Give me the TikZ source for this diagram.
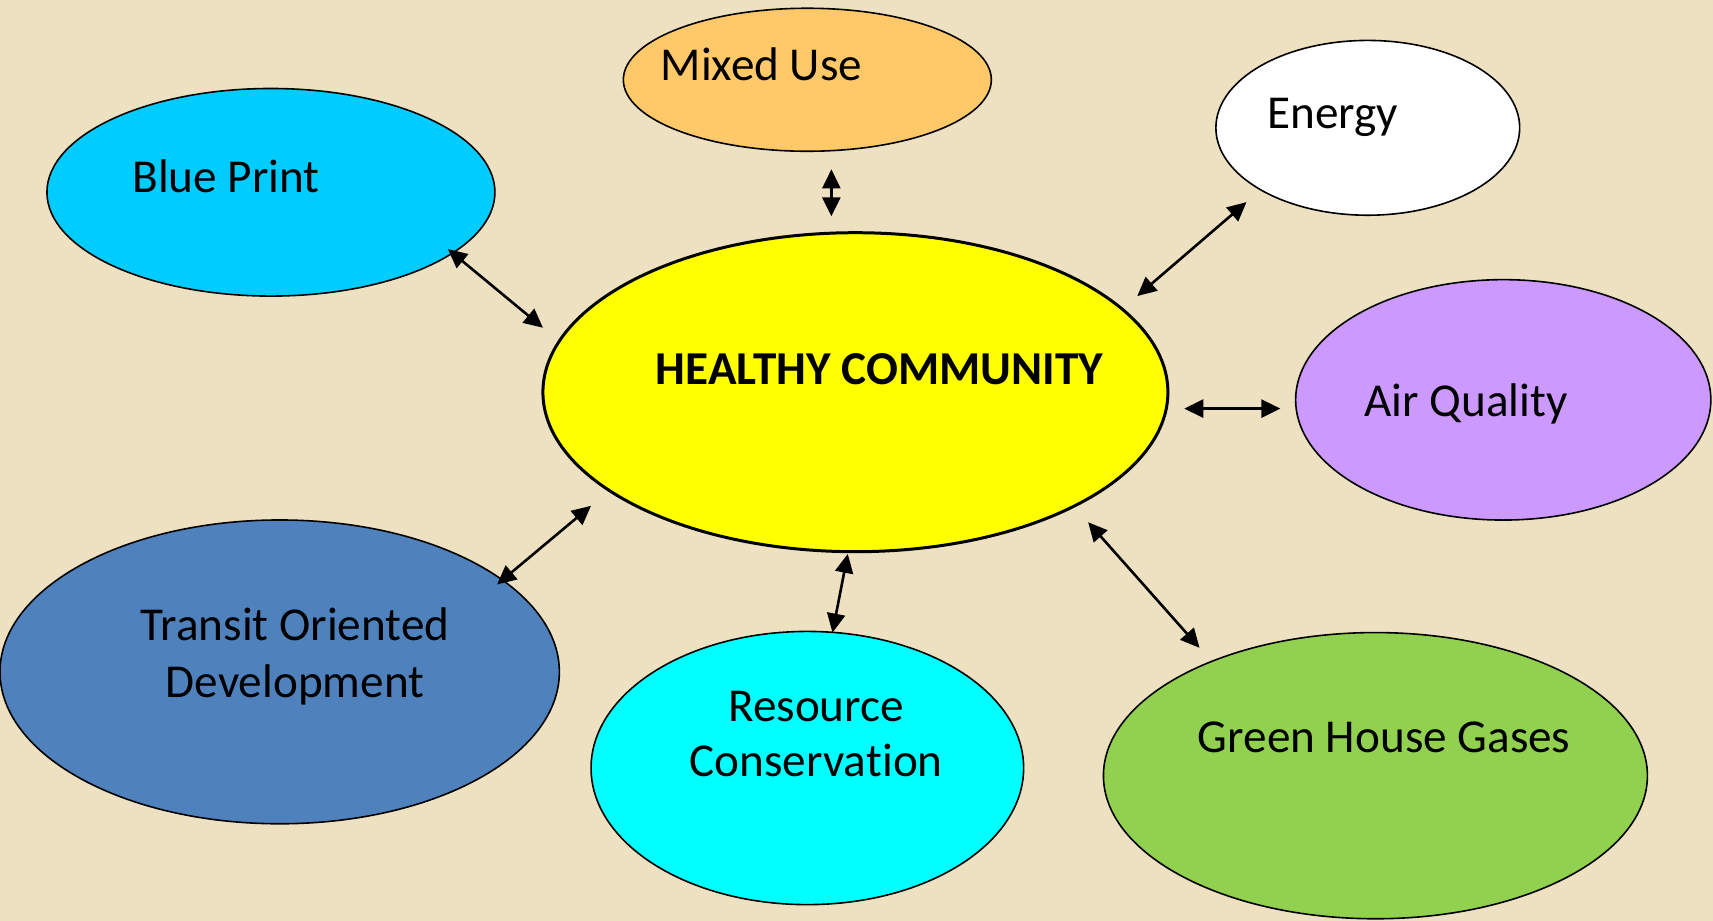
\documentclass[tikz,border=0pt]{standalone}
\usepackage{fontspec}
\setmainfont{Carlito}[Ligatures=NoCommon]
\usetikzlibrary{shapes.geometric,arrows.meta}
\definecolor{bgcol}{RGB}{238,225,193}
\definecolor{mixcol}{RGB}{255,200,105}
\definecolor{bluecol}{RGB}{0,204,255}
\definecolor{hccol}{RGB}{255,255,0}
\definecolor{aircol}{RGB}{204,153,255}
\definecolor{todcol}{RGB}{79,129,189}
\definecolor{rescol}{RGB}{0,255,255}
\definecolor{greencol}{RGB}{146,208,80}
\begin{document}
\begin{tikzpicture}[x=0.54625pt,y=-0.54625pt,
  bubble/.style={ellipse,draw=black,line width=0.8pt,inner sep=0pt},
  lbl/.style={font=\fontsize{23.6}{28}\selectfont,anchor=base,inner sep=0pt},
  link/.style={line width=1.3pt,{Triangle[length=9.5pt,width=9pt]}-{Triangle[length=9.5pt,width=9pt]}}]
\fill[bgcol] (0,0) rectangle (1568,843);
\useasboundingbox (0,0) rectangle (1568,843);
% ellipses
\node[bubble,fill=mixcol,minimum width=184pt,minimum height=71.5pt] (mix) at (739,73) {};
\node[bubble,fill=bluecol,minimum width=224pt,minimum height=103.8pt] (blue) at (248,176) {};
\node[bubble,fill=white,minimum width=151.9pt,minimum height=87.4pt] (energy) at (1252,117) {};
\node[bubble,fill=hccol,line width=1.5pt,minimum width=312.5pt,minimum height=159.5pt] (hc) at (783,359) {};
\node[bubble,fill=aircol,minimum width=207.6pt,minimum height=120.2pt] (air) at (1376,366) {};
\node[bubble,fill=todcol,minimum width=279.7pt,minimum height=151.9pt] (tod) at (256,615) {};
\node[bubble,fill=rescol,minimum width=216.3pt,minimum height=136.6pt] (res) at (739,703) {};
\node[bubble,fill=greencol,minimum width=272pt,minimum height=143.1pt] (ghg) at (1259,710) {};
% labels
\node[lbl] (tmix) at (697,74) {Mixed Use};
\node[lbl] (tblue) at (207,176) {Blue Print};
\node[lbl] (tenergy) at (1220,118) {Energy};
\node[lbl,font=\fontsize{23.6}{28}\selectfont\bfseries] (thc) at (805,352) {HEALTHY COMMUNITY};
\node[lbl] (tair) at (1342,381) {Air Quality};
\node[lbl] (ttod1) at (270,586) {Transit Oriented};
\node[lbl] (ttod2) at (270,638) {Development};
\node[lbl] (tres1) at (747,660) {Resource};
\node[lbl] (tres2) at (747,711) {Conserva\kern0pt tion};
\node[lbl] (tghg) at (1267,689) {Green House Gases};
% connector ends
\coordinate (m1) at (761,155); \coordinate (m2) at (761,198);
\coordinate (b1) at (410,228); \coordinate (b2) at (497,300);
\coordinate (e1) at (1141,185); \coordinate (e2) at (1041,271);
\coordinate (a1) at (1084,374); \coordinate (a2) at (1172,374);
\coordinate (t1) at (541,463); \coordinate (t2) at (455,535);
\coordinate (r1) at (776,507); \coordinate (r2) at (762,579);
\coordinate (g1) at (996,478); \coordinate (g2) at (1098,593);
\draw[link] (m1) -- (m2);
\draw[link] (b1) -- (b2);
\draw[link] (e1) -- (e2);
\draw[link] (a1) -- (a2);
\draw[link] (t1) -- (t2);
\draw[link] (r1) -- (r2);
\draw[link] (g1) -- (g2);
\end{tikzpicture}
\end{document}
